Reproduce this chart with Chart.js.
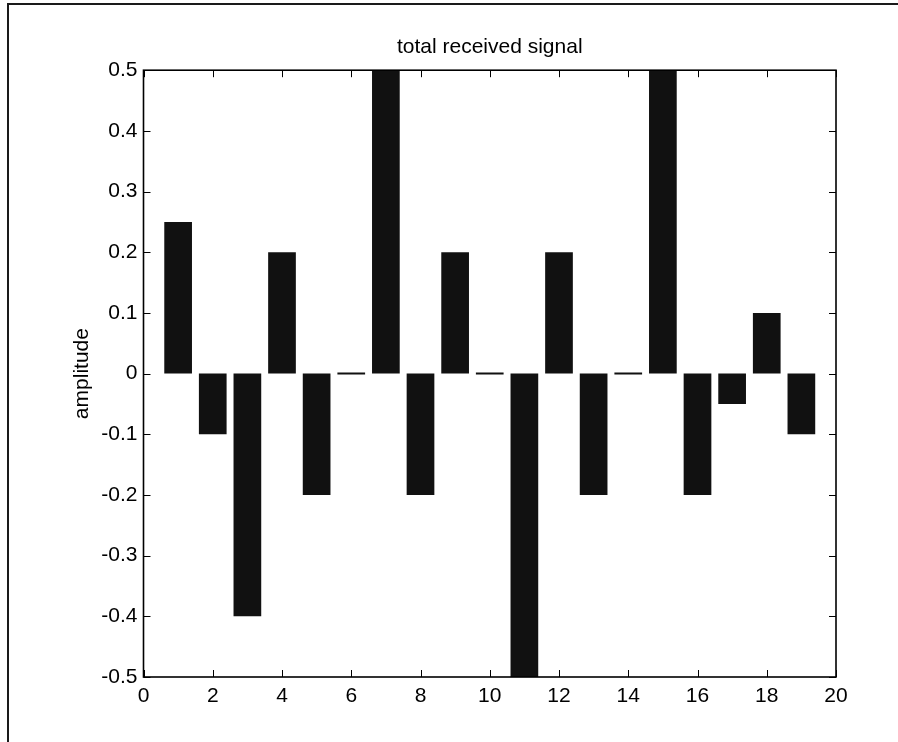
<!DOCTYPE html>
<html>
<head>
<meta charset="utf-8">
<title>total received signal</title>
<script src="https://cdn.jsdelivr.net/npm/chart.js@4.4.1/dist/chart.umd.min.js"></script>
<style>
    html, body { margin: 0; padding: 0; background: #fff; }
    #frame {
        position: absolute; left: 7px; top: 3px;
        width: 900px; height: 800px;
        border-left: 2px solid #1a1a1a;
        border-top: 2px solid #1a1a1a;
    }
    #chart { position: absolute; left: 0; top: 0; }
</style>
</head>
<body>
<div id="frame"></div>
<canvas id="chart" width="898" height="742"></canvas>
<script>
// Datos
const positions = [1, 2, 3, 4, 5, 6, 7, 8, 9, 10, 11, 12, 13, 14, 15, 16, 17, 18, 19];
const amplitudes = [0.25, -0.1, -0.4, 0.2, -0.2, 0, 0.5, -0.2, 0.2, 0, -0.5, 0.2, -0.2, 0, 0.5, -0.2, -0.05, 0.1, -0.1];
const xTicks = [0, 2, 4, 6, 8, 10, 12, 14, 16, 18, 20];
const yTicks = [-0.5, -0.4, -0.3, -0.2, -0.1, 0, 0.1, 0.2, 0.3, 0.4, 0.5];

const FONT = 'Liberation Sans, Arial, Helvetica, sans-serif';

// caja del eje con marcas hacia dentro (estilo matlab)
const boxPlugin = {
    id: 'box',
    afterDatasetsDraw(chart) {
        const ctx = chart.ctx;
        const a = chart.chartArea;
        const xs = chart.scales.x;
        const ys = chart.scales.y;
        const len = 7;
        ctx.save();
        ctx.strokeStyle = '#000';
        ctx.lineWidth = 1;
        ctx.beginPath();
        xTicks.forEach(v => {
            const px = Math.round(xs.getPixelForValue(v)) + 0.5;
            ctx.moveTo(px, a.bottom); ctx.lineTo(px, a.bottom - len);
            ctx.moveTo(px, a.top); ctx.lineTo(px, a.top + len);
        });
        yTicks.forEach(v => {
            const py = Math.round(ys.getPixelForValue(v)) + 0.5;
            ctx.moveTo(a.left, py); ctx.lineTo(a.left + len, py);
            ctx.moveTo(a.right, py); ctx.lineTo(a.right - len, py);
        });
        ctx.stroke();
        ctx.lineWidth = 1.6;
        ctx.strokeRect(a.left, a.top, a.right - a.left, a.bottom - a.top);
        ctx.restore();
    }
};

const points = positions.map((p, i) => ({ x: p, y: amplitudes[i] }));

new Chart(document.getElementById('chart'), {
    type: 'bar',
    data: {
        datasets: [{
            data: points,
            backgroundColor: '#111111',
            borderWidth: 0,
            barPercentage: 0.8,
            categoryPercentage: 1,
            minBarLength: 2
        }]
    },
    options: {
        responsive: false,
        animation: false,
        layout: { padding: { left: 0, right: 62, top: 0, bottom: 0 } },
        plugins: {
            legend: { display: false },
            tooltip: { enabled: false },
            title: {
                display: true,
                fullSize: false,
                text: 'total received signal',
                color: '#000',
                font: { family: FONT, size: 21, weight: 'normal' },
                padding: { top: 35, bottom: 10 }
            }
        },
        scales: {
            x: {
                type: 'linear',
                min: 0,
                max: 20,
                offset: false,
                grid: { display: false, drawTicks: false, offset: false },
                border: { display: false },
                afterBuildTicks: s => { s.ticks = xTicks.map(v => ({ value: v })); },
                afterFit: s => { s.height = 65; },
                ticks: {
                    color: '#000',
                    padding: 7,
                    maxRotation: 0,
                    autoSkip: false,
                    font: { family: FONT, size: 21 }
                }
            },
            y: {
                min: -0.5,
                max: 0.5,
                grid: { display: false, drawTicks: false },
                border: { display: false },
                afterBuildTicks: s => { s.ticks = yTicks.map(v => ({ value: v })); },
                afterFit: s => { s.width = 143.5; },
                ticks: {
                    color: '#000',
                    padding: 6,
                    autoSkip: false,
                    font: { family: FONT, size: 21 },
                    callback: v => String(+Number(v).toFixed(1))
                },
                title: {
                    display: true,
                    text: 'amplitude',
                    color: '#000',
                    font: { family: FONT, size: 21 },
                    padding: { top: 70, bottom: 0 }
                }
            }
        }
    },
    plugins: [boxPlugin]
});
</script>
</body>
</html>
